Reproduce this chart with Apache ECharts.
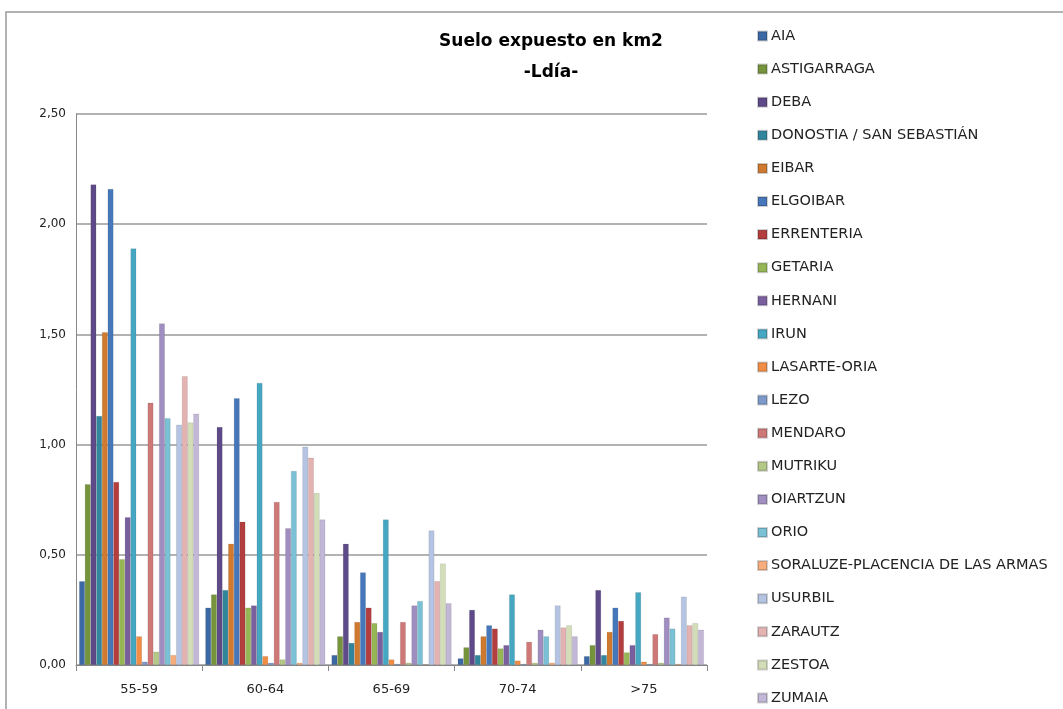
<!DOCTYPE html>
<html>
<head>
<meta charset="utf-8">
<script src="https://cdn.jsdelivr.net/npm/echarts@6/dist/echarts.min.js"></script>
<style>
html,body{margin:0;padding:0;background:#fff;}
#c{width:1063px;height:709px;}
</style>
</head>
<body>
<div id="c"></div>
<script>
const categories = ['55-59', '60-64', '65-69', '70-74', '>75'];
const seriesNames = ['AIA','ASTIGARRAGA','DEBA','DONOSTIA / SAN SEBASTIÁN','EIBAR','ELGOIBAR','ERRENTERIA','GETARIA','HERNANI','IRUN','LASARTE-ORIA','LEZO','MENDARO','MUTRIKU','OIARTZUN','ORIO','SORALUZE-PLACENCIA DE LAS ARMAS','USURBIL','ZARAUTZ','ZESTOA','ZUMAIA'];
const AIA = [0.38, 0.26, 0.045, 0.03, 0.04];
const ASTIGARRAGA = [0.82, 0.32, 0.13, 0.08, 0.09];
const DEBA = [2.18, 1.08, 0.55, 0.25, 0.34];
const DONOSTIA = [1.13, 0.34, 0.10, 0.045, 0.045];
const EIBAR = [1.51, 0.55, 0.195, 0.13, 0.15];
const ELGOIBAR = [2.16, 1.21, 0.42, 0.18, 0.26];
const ERRENTERIA = [0.83, 0.65, 0.26, 0.165, 0.20];
const GETARIA = [0.48, 0.26, 0.19, 0.075, 0.057];
const HERNANI = [0.67, 0.27, 0.15, 0.09, 0.09];
const IRUN = [1.89, 1.28, 0.66, 0.32, 0.33];
const LASARTE = [0.13, 0.04, 0.025, 0.02, 0.015];
const LEZO = [0.015, 0.01, 0.005, 0.005, 0.005];
const MENDARO = [1.19, 0.74, 0.195, 0.105, 0.14];
const MUTRIKU = [0.06, 0.025, 0.01, 0.01, 0.01];
const OIARTZUN = [1.55, 0.62, 0.27, 0.16, 0.215];
const ORIO = [1.12, 0.88, 0.29, 0.13, 0.165];
const SORALUZE = [0.045, 0.01, 0.003, 0.01, 0.005];
const USURBIL = [1.09, 0.99, 0.61, 0.27, 0.31];
const ZARAUTZ = [1.31, 0.94, 0.38, 0.17, 0.18];
const ZESTOA = [1.10, 0.78, 0.46, 0.18, 0.19];
const ZUMAIA = [1.14, 0.66, 0.28, 0.13, 0.16];
const seriesData = [AIA, ASTIGARRAGA, DEBA, DONOSTIA, EIBAR, ELGOIBAR, ERRENTERIA, GETARIA, HERNANI, IRUN, LASARTE, LEZO, MENDARO, MUTRIKU, OIARTZUN, ORIO, SORALUZE, USURBIL, ZARAUTZ, ZESTOA, ZUMAIA];
const colors = ['#3C68A4','#76943C','#5E4A88','#31869E','#CF7A2E','#4677BA','#B43E3E','#97B756','#7A5F9E','#45A7C2','#F18D45','#7D9ACB','#CE7977','#B3C985','#A08EC0','#7BC1D6','#F8AE7C','#B4C4E2','#E3B3B2','#D3DEB9','#C2B7D6'];

const chart = echarts.init(document.getElementById('c'), null, {renderer: 'canvas'});
chart.setOption({
  animation: false,
  color: colors,
  title: {
    text: 'Suelo expuesto en km2\n-Ldía-',
    left: 546, top: 21, textAlign: 'center',
    textStyle: {fontFamily: 'DejaVu Sans', fontSize: 17, fontWeight: 'bold', color: '#000', lineHeight: 31}
  },
  legend: {
    orient: 'vertical', left: 757, top: 28.5, padding: 0,
    itemWidth: 9, itemHeight: 9, itemGap: 18.1,
    icon: 'rect',
    textStyle: {fontFamily: 'DejaVu Sans', fontSize: 14.5, color: '#222', lineHeight: 15, padding: [0,0,0,-1]},
    data: seriesNames
  },
  grid: {left: 76, right: 356, top: 114, bottom: 44, containLabel: false},
  xAxis: {
    type: 'category', data: categories,
    axisLine: {lineStyle: {color: '#888', width: 1}},
    axisTick: {show: true, alignWithLabel: false, length: 6, lineStyle: {color: '#888'}},
    axisLabel: {fontFamily: 'DejaVu Sans', fontSize: 13, color: '#222', margin: 18}
  },
  yAxis: {
    type: 'value', min: 0, max: 2.5, interval: 0.5,
    axisLine: {show: true, lineStyle: {color: '#888'}},
    axisTick: {show: false},
    splitLine: {lineStyle: {color: '#999', width: 1.5}},
    axisLabel: {fontFamily: 'DejaVu Sans', fontSize: 12, color: '#222', margin: 10,
      formatter: v => v.toFixed(2).replace('.', ',')}
  },
  series: seriesData.map((d, i) => ({
    name: seriesNames[i], type: 'bar', data: d,
    barGap: '0%', barCategoryGap: '5%',
    itemStyle: {color: colors[i], borderColor: 'rgba(0,0,0,0.18)', borderWidth: 0.5}
  })),
  graphic: [{
    type: 'polyline', silent: true,
    shape: {points: [[6, 709], [6, 12], [1063, 12]]},
    style: {stroke: '#999', lineWidth: 1.5, fill: null}
  }]
});
</script>
</body>
</html>
